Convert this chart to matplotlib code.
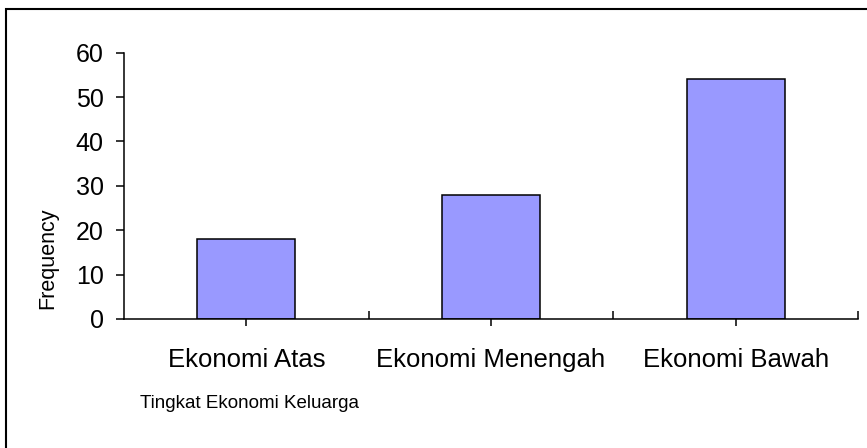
import numpy as np
import matplotlib
matplotlib.use("Agg")
import matplotlib.pyplot as plt
from matplotlib.patches import Rectangle

# data
categories = ["Ekonomi Atas", "Ekonomi Menengah", "Ekonomi Bawah"]
frequency = [18, 28, 54]
y_ticks = [0, 10, 20, 30, 40, 50, 60]

plt.rcParams['font.family'] = ['Liberation Sans', 'DejaVu Sans']

W, H = 867, 448
fig = plt.figure(figsize=(W / 100, H / 100), dpi=100)
ax = fig.add_axes([124 / W, 1 - 319 / H, (858 - 124) / W, (319 - 52.7) / H])

x = np.arange(len(categories))
ax.bar(x, frequency, width=0.4, color="#9999FF", edgecolor="black", linewidth=1.1, zorder=3)

ax.set_xlim(-0.5, len(categories) - 0.5)
ax.set_ylim(0, 60)
ax.set_yticks(y_ticks)
ax.set_yticklabels([str(v) for v in y_ticks], fontsize=18)
ax.set_xticks(x)
ax.set_xticklabels(categories, fontsize=18.5)
ax.set_xticks(np.arange(len(categories)) + 0.5, minor=True)

for s in ["top", "right"]:
    ax.spines[s].set_visible(False)
for s in ["left", "bottom"]:
    ax.spines[s].set_linewidth(1.1)
    ax.spines[s].set_zorder(4)

ax.tick_params(axis="y", direction="out", length=6, width=1.1, pad=8.5)
ax.tick_params(axis="x", which="major", direction="inout", length=9.5, width=1.1, pad=16)
ax.tick_params(axis="x", which="minor", direction="in", length=6, width=1.1)

fig.text(48 / W, 1 - 258 / H, "Frequency", rotation=90, ha="center", va="center", fontsize=15.5)
fig.text(140 / W, 1 - 408 / H, "Tingkat Ekonomi Keluarga", ha="left", va="baseline", fontsize=13.5)

# outer chart border (only left and top edges visible in the crop)
fig.patches.append(Rectangle((6 / W, -0.5), 2, 1.5 - 9 / H, transform=fig.transFigure,
                             fill=False, edgecolor="black", linewidth=1.5))

fig.savefig("out.png", dpi=100)
